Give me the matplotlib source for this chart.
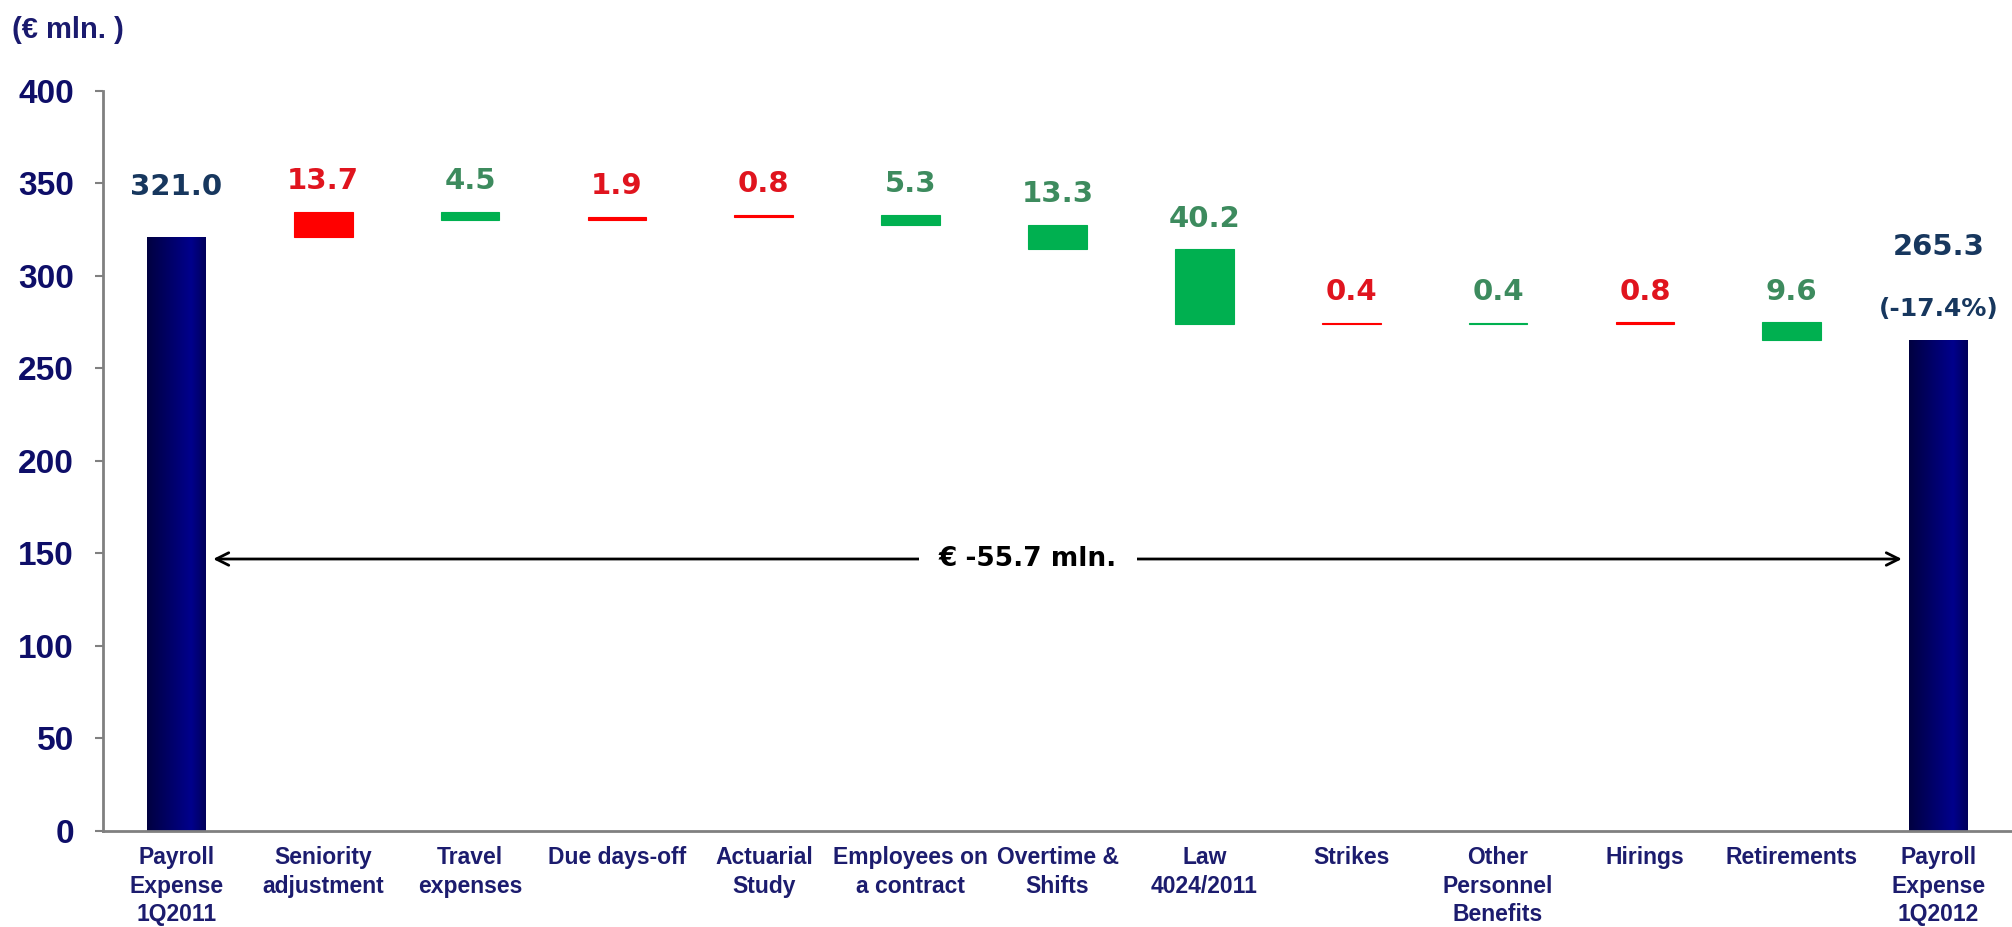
import matplotlib
matplotlib.use("Agg")
import matplotlib.pyplot as plt
import numpy as np
from matplotlib.colors import LinearSegmentedColormap

categories = ["Payroll\nExpense\n1Q2011", "Seniority\nadjustment", "Travel\nexpenses",
              "Due days-off", "Actuarial\nStudy", "Employees on\na contract",
              "Overtime &\nShifts", "Law\n4024/2011", "Strikes", "Other\nPersonnel\nBenefits",
              "Hirings", "Retirements", "Payroll\nExpense\n1Q2012"]
start_total = 321.0
changes = [13.7, -4.5, 1.9, 0.8, -5.3, -13.3, -40.2, 0.4, -0.4, 0.8, -9.6]
end_total = 265.3
yticks = [0, 50, 100, 150, 200, 250, 300, 350, 400]
arrow_level = 147

navy_text = "#17375E"
tick_color = "#0E0E68"
red_bar, red_text = "#FF0000", "#E0141E"
green_bar, green_text = "#00B050", "#3D8B5E"
label_font = ["Liberation Sans", "DejaVu Sans"]
value_font = ["DejaVu Sans"]

fig = plt.figure(figsize=(20.12, 9.27), dpi=100)
ax = fig.add_axes([0.0512, 0.1036, 0.9488, 0.7983])

x = np.arange(len(categories))
width = 0.4

# floating bars for the changes
running = start_total
for i, c in enumerate(changes):
    lo = running if c > 0 else running + c
    hi = running + c if c > 0 else running
    col = red_bar if c > 0 else green_bar
    ax.bar(x[i + 1], abs(c), bottom=lo, width=width, color=col, edgecolor=col, linewidth=0.8)
    ax.annotate(f"{abs(c):.1f}", (x[i + 1], hi), xytext=(0, 12), textcoords="offset points",
                ha="center", va="bottom", fontsize=21, fontweight="bold",
                color=red_text if c > 0 else green_text, family=value_font)
    running += c

# totals with a shaded navy fill
navy_cmap = LinearSegmentedColormap.from_list("navy", [(0, "#000040"), (0.75, "#00008C"), (1, "#00005A")])
grad = np.linspace(0, 1, 256).reshape(1, -1)
for xi, val in [(x[0], start_total), (x[-1], end_total)]:
    rect = ax.bar(xi, val, width=width, color="#000070", linewidth=0)[0]
    im = ax.imshow(grad, cmap=navy_cmap, extent=(xi - width / 2, xi + width / 2, 0, val),
                   aspect="auto", zorder=2)
    im.set_clip_path(rect)

ax.annotate(f"{start_total:.1f}", (x[0], start_total), xytext=(0, 26), textcoords="offset points",
            ha="center", va="bottom", fontsize=21, fontweight="bold", color=navy_text, family=value_font)
pct = (end_total - start_total) / start_total * 100
ax.annotate(f"({pct:.1f}%)", (x[-1], end_total), xytext=(0, 14), textcoords="offset points",
            ha="center", va="bottom", fontsize=18, fontweight="bold", color=navy_text, family=value_font)
ax.annotate(f"{end_total:.1f}", (x[-1], end_total), xytext=(0, 57), textcoords="offset points",
            ha="center", va="bottom", fontsize=21, fontweight="bold", color=navy_text, family=value_font)

# overall change arrow
ax.annotate("", xy=(x[-1] - width / 2 - 0.05, arrow_level), xytext=(x[0] + width / 2 + 0.05, arrow_level),
            arrowprops=dict(arrowstyle="<->,head_length=0.9,head_width=0.45", color="black", lw=2,
                            shrinkA=0, shrinkB=0))
ax.text(5.8, arrow_level, f"€ {end_total - start_total:.1f} mln.", ha="center", va="center",
        fontsize=19, fontweight="bold", color="black", family=value_font,
        bbox=dict(facecolor="white", edgecolor="none", pad=14))

ax.set_xlim(-0.5, len(categories) - 0.5)
ax.set_ylim(0, 400)
ax.set_yticks(yticks)
ax.set_xticks(x)
ax.set_xticklabels(categories, fontsize=16.5, fontweight="bold", color="#1C1C6E",
                   family=label_font, linespacing=1.3)
for lab in ax.get_yticklabels():
    lab.set_fontsize(24)
    lab.set_fontweight("bold")
    lab.set_color(tick_color)
    lab.set_family(label_font)
ax.tick_params(axis="x", length=0, pad=11)
ax.tick_params(axis="y", length=6, width=1.5, color="#808080", pad=15)
for s in ["top", "right"]:
    ax.spines[s].set_visible(False)
for s in ["left", "bottom"]:
    ax.spines[s].set_color("#808080")
    ax.spines[s].set_linewidth(2)

fig.text(12 / 2012, 1 - 30 / 927, "(€ mln. )", ha="left", va="center", fontsize=21,
         fontweight="bold", color="#1A1A6E", family=label_font)

fig.savefig("out.png", dpi=100, facecolor="white")
